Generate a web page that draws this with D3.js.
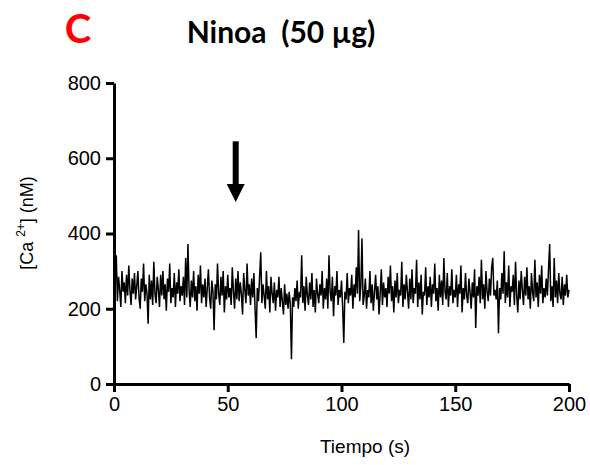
<!DOCTYPE html>
<html>
<head>
<meta charset="utf-8">
<script src="https://d3js.org/d3.v7.min.js"></script>
<style>
  body { margin: 0; background: #fff; }
  svg { display: block; }
</style>
</head>
<body>
<div id="chart"></div>
<script>
// Calcium trace, one reading every 0.5 s (values in nM)
var step = 0.5;
var calcium = [
  240, 275, 342, 220, 285, 250, 205, 300, 245, 270, 215, 290, 235, 315, 250, 210, 280, 240, 295, 225,
  260, 300, 230, 200, 280, 245, 320, 220, 265, 240, 160, 290, 225, 275, 210, 325, 240, 215, 285, 250,
  205, 290, 235, 300, 225, 265, 195, 280, 245, 320, 215, 255, 230, 295, 205, 270, 240, 305, 220, 260,
  235, 285, 210, 335, 230, 372, 250, 205, 275, 230, 300, 220, 260, 195, 290, 240, 315, 215, 265, 230,
  280, 205, 255, 305, 230, 200, 275, 245, 143, 265, 225, 320, 240, 210, 285, 235, 300, 190, 260, 225,
  290, 230, 255, 210, 310, 245, 200, 280, 225, 300, 220, 270, 240, 185, 295, 250, 215, 320, 235, 265,
  210, 280, 230, 295, 200, 122, 255, 220, 285, 350, 215, 265, 235, 200, 300, 225, 260, 190, 285, 240,
  215, 270, 195, 250, 230, 285, 205, 255, 220, 185, 265, 210, 240, 200, 245, 210, 66, 230, 205, 255,
  220, 275, 200, 245, 230, 342, 215, 260, 195, 285, 235, 210, 270, 225, 295, 205, 250, 190, 280, 240,
  215, 265, 235, 300, 200, 255, 225, 280, 200, 342, 245, 220, 285, 180, 260, 235, 300, 210, 250, 230,
  275, 205, 109, 245, 225, 295, 215, 255, 235, 290, 200, 265, 230, 310, 240, 409, 220, 260, 387, 210,
  235, 280, 200, 250, 230, 300, 215, 265, 195, 245, 290, 225, 260, 185, 240, 305, 210, 270, 230, 255,
  205, 285, 240, 315, 220, 260, 190, 275, 230, 295, 215, 250, 235, 325, 205, 265, 225, 290, 245, 200,
  280, 225, 305, 215, 255, 240, 330, 205, 270, 225, 290, 185, 245, 235, 310, 210, 260, 230, 285, 205,
  265, 240, 320, 220, 255, 195, 290, 230, 275, 210, 335, 245, 225, 295, 205, 260, 235, 305, 215, 250,
  230, 290, 205, 265, 240, 315, 190, 255, 225, 295, 235, 215, 280, 245, 200, 270, 230, 305, 149, 260,
  235, 285, 215, 330, 225, 265, 200, 300, 245, 220, 280, 235, 310, 335, 235, 250, 225, 275, 135, 255,
  225, 295, 240, 353, 215, 270, 230, 315, 205, 260, 245, 290, 210, 325, 235, 190, 275, 225, 300, 250,
  210, 285, 235, 310, 225, 260, 200, 295, 245, 220, 330, 230, 270, 205, 290, 240, 315, 215, 255, 230,
  280, 235, 305, 372, 220, 260, 205, 335, 230, 275, 215, 295, 240, 225, 285, 210, 265, 235, 290, 230,
  250
];
var xTicks = [0, 50, 100, 150, 200];
var yTicks = [0, 200, 400, 600, 800];
var arrowTime = 53.5;        // stimulus marker (s)
var arrowFrom = 645, arrowTo = 484;   // nM

var svgWidth = 590, svgHeight = 465;
var margin = { top: 83, right: 21, bottom: 81, left: 114 };
var width = svgWidth - margin.left - margin.right;
var height = svgHeight - margin.top - margin.bottom;

var svg = d3.select("#chart").append("svg")
  .attr("width", svgWidth)
  .attr("height", svgHeight);

svg.append("rect").attr("width", svgWidth).attr("height", svgHeight).attr("fill", "#fff");

var chartGroup = svg.append("g")
  .attr("transform", `translate(${margin.left}, ${margin.top})`);

var x = d3.scaleLinear().domain([0, 200]).range([0, width]);
var y = d3.scaleLinear().domain([0, 800]).range([height, 0]);

// trace
var line = d3.line()
  .x((d, i) => x(i * step))
  .y(d => y(d));

chartGroup.append("path")
  .datum(calcium)
  .attr("fill", "none")
  .attr("stroke", "#000")
  .attr("stroke-width", 1.5)
  .attr("d", line);

// axes
var bottomAxis = d3.axisBottom(x).tickValues(xTicks).tickSize(8).tickPadding(5).tickSizeOuter(0);
var leftAxis = d3.axisLeft(y).tickValues(yTicks).tickSize(8).tickPadding(5).tickSizeOuter(0);

var gx = chartGroup.append("g")
  .attr("transform", `translate(0, ${height})`)
  .call(bottomAxis);
var gy = chartGroup.append("g").call(leftAxis);

[gx, gy].forEach(function(g) {
  g.select(".domain").attr("stroke", "#000").attr("stroke-width", 3);
  g.selectAll(".tick line").attr("stroke", "#000").attr("stroke-width", 3);
  g.selectAll(".tick text")
    .attr("fill", "#000")
    .attr("font-family", "'Liberation Sans', Arial, sans-serif")
    .attr("font-size", "20px");
});

// arrow marker
var ax = x(arrowTime);
chartGroup.append("line")
  .attr("x1", ax).attr("x2", ax)
  .attr("y1", y(arrowFrom)).attr("y2", y(arrowTo) - 16)
  .attr("stroke", "#000").attr("stroke-width", 6);
chartGroup.append("path")
  .attr("d", `M${ax - 9},${y(arrowTo) - 18} L${ax + 9},${y(arrowTo) - 18} L${ax},${y(arrowTo)} Z`)
  .attr("fill", "#000");

// axis labels
svg.append("text")
  .attr("x", 365).attr("y", 453)
  .attr("text-anchor", "middle")
  .attr("font-family", "'Liberation Sans', Arial, sans-serif")
  .attr("font-size", "19px")
  .text("Tiempo (s)");

var yl = svg.append("text")
  .attr("transform", "translate(33, 223) rotate(-90)")
  .attr("text-anchor", "middle")
  .attr("font-family", "'Liberation Sans', Arial, sans-serif")
  .attr("font-size", "18px");
yl.append("tspan").text("[Ca ");
yl.append("tspan").attr("font-size", "12px").attr("dy", -8).text("2+");
yl.append("tspan").attr("dy", 8).text("] (nM)");

// titles
svg.append("text")
  .attr("x", 78).attr("y", 43)
  .attr("text-anchor", "middle")
  .attr("font-family", "Lato, 'Open Sans', sans-serif")
  .attr("font-weight", "bold")
  .attr("font-size", "40px")
  .attr("fill", "#ff0000")
  .text("C");

svg.append("text")
  .attr("x", 281).attr("y", 43)
  .attr("text-anchor", "middle")
  .attr("font-family", "Lato, 'Open Sans', sans-serif")
  .attr("font-weight", "bold")
  .attr("font-size", "30px")
  .attr("fill", "#000")
  .style("white-space", "pre")
  .text("Ninoa  (50 µg)");
</script>
</body>
</html>
